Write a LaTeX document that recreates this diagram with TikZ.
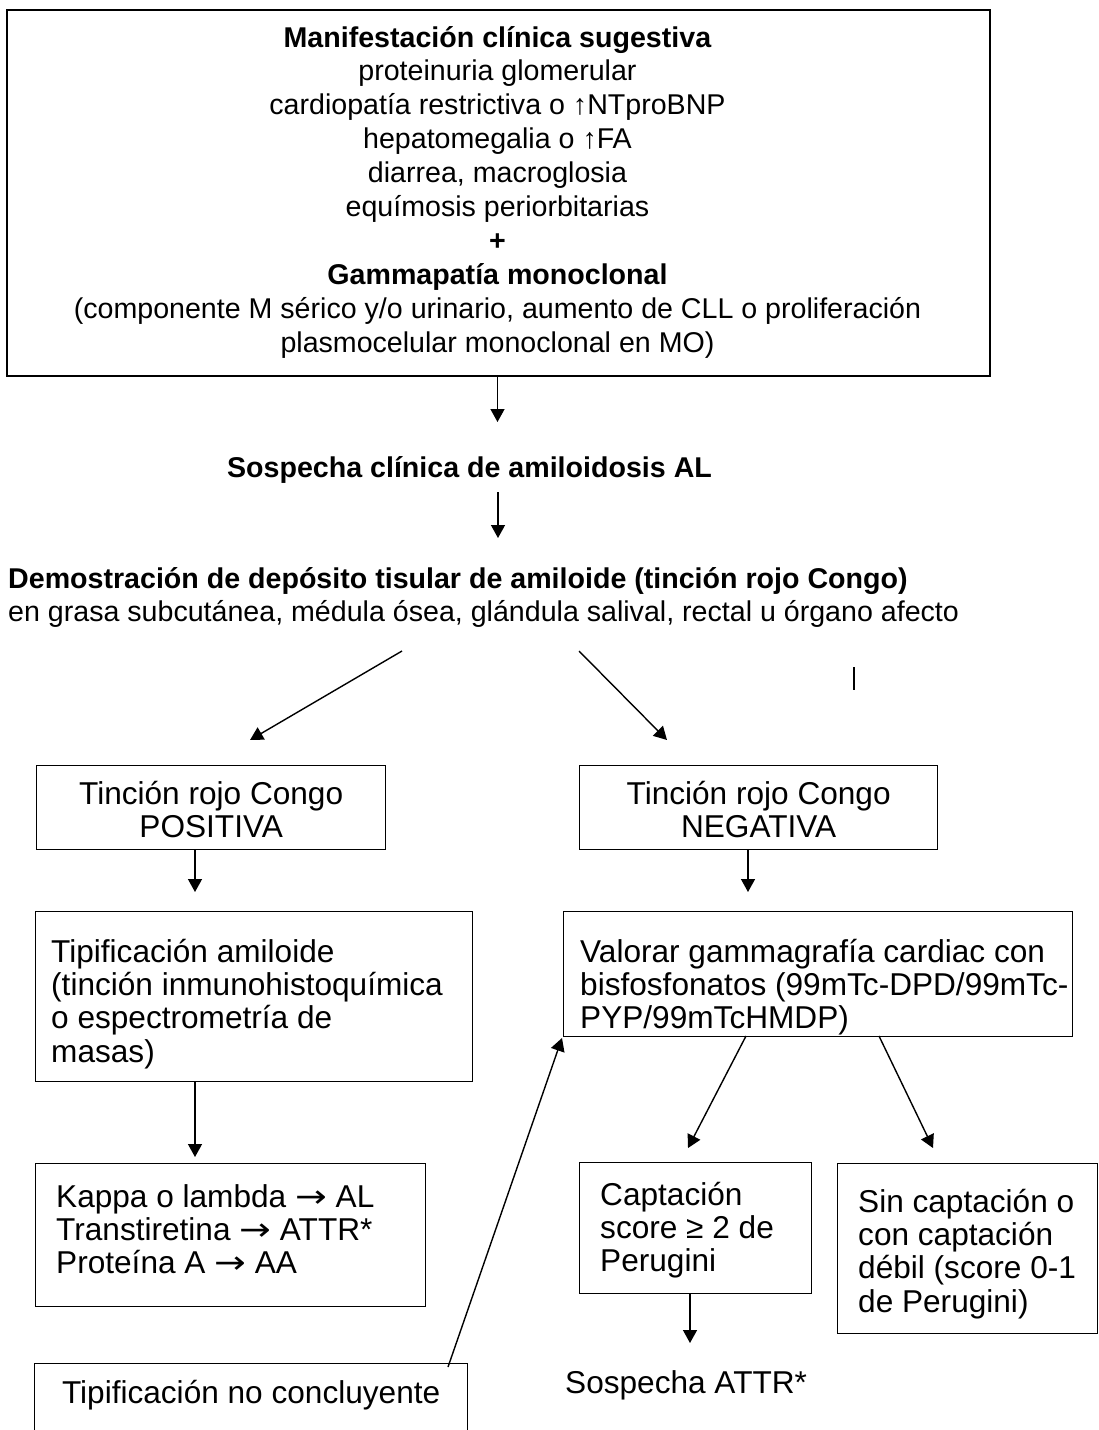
\documentclass[tikz,border=0pt]{standalone}
\usepackage{fontspec}
\setmainfont{Liberation Sans}
\newfontfamily\arrowfont{DejaVu Sans}
\usetikzlibrary{arrows.meta}
\newcommand\ra{{\arrowfont\scalebox{1.2}[1]{→}}}
\begin{document}
\begin{tikzpicture}[x=1pt,y=-1pt,
  box/.style={draw, line width=1.3pt, anchor=north west, inner sep=0pt},
  arr/.style={line width=1.4pt, -{Triangle[length=13pt,width=14pt]}},
  lbl/.style={inner sep=0pt, anchor=base west},
  clbl/.style={inner sep=0pt, anchor=base}
]
\useasboundingbox (0,0) rectangle (1099,1430);
\clip (0,0) rectangle (1099,1430);
\newcommand\boxfont{\fontsize{31.6}{33.4}\selectfont}
\newcommand\headfont{\fontsize{28.6}{33.9}\selectfont}

% ---------- top box ----------
\node[box, line width=2.2pt, minimum width=983, minimum height=366] (top) at (6,9) {};
\node[clbl] (toptext) at (497.5,47) {\parbox[t]{970pt}{\centering\headfont
  \textbf{Manifestación clínica sugestiva}\\
  proteinuria glomerular\\
  cardiopatía restrictiva o ↑NTproBNP\\
  hepatomegalia o ↑FA\\
  diarrea, macroglosia\\
  equímosis periorbitarias\\
  \textbf{+}\\
  \textbf{Gammapatía monoclonal}\\
  (componente M sérico y/o urinario, aumento de CLL o proliferación\\
  plasmocelular monoclonal en MO)}};

% ---------- headings ----------
\node[clbl, font=\headfont\bfseries] (sosp) at (469.5,477) {Sospecha clínica de amiloidosis AL};
\node[lbl] (demo) at (8,588) {\parbox[t]{1080pt}{\raggedright\headfont
  \textbf{Demostración de depósito tisular de amiloide (tinción rojo Congo)}\\
  en grasa subcutánea, médula ósea, glándula salival, rectal u órgano afecto}};

% ---------- boxes ----------
\node[box, minimum width=349, minimum height=84] (pos) at (36,765) {};
\node[clbl] (postext) at (pos.center |- 0,804) {\parbox[t]{340pt}{\centering\boxfont Tinción rojo Congo\\ POSITIVA}};

\node[box, minimum width=358, minimum height=84] (neg) at (579,765) {};
\node[clbl] (negtext) at (neg.center |- 0,804) {\parbox[t]{350pt}{\centering\boxfont Tinción rojo Congo\\ NEGATIVA}};

\node[box, minimum width=437, minimum height=170] (tipam) at (35,911) {};
\node[lbl] (tipamtext) at (51,962) {\parbox[t]{430pt}{\raggedright\boxfont Tipificación amiloide\\ (tinción inmunohistoquímica\\ o espectrometría de\\ masas)}};

\node[box, minimum width=509, minimum height=125] (val) at (563,911) {};
\node[lbl] (valtext) at (580,962) {\parbox[t]{500pt}{\raggedright\boxfont Valorar gammagrafía cardiac con\\ bisfosfonatos (99mTc-DPD/99mTc-\\ PYP/99mTcHMDP)}};

\node[box, minimum width=390, minimum height=143] (kap) at (35,1163) {};
\node[lbl] (kaptext) at (56,1207) {\parbox[t]{380pt}{\raggedright\boxfont Kappa o lambda \ra{} AL\\ Transtiretina \ra{} ATTR*\\ Proteína A \ra{} AA}};

\node[box, minimum width=232, minimum height=131] (cap) at (579,1162) {};
\node[lbl] (captext) at (600,1205) {\parbox[t]{220pt}{\raggedright\boxfont Captación\\ score ≥ 2 de\\ Perugini}};

\node[box, minimum width=260, minimum height=170] (sin) at (837,1163) {};
\node[lbl] (sintext) at (858,1212) {\parbox[t]{240pt}{\raggedright\boxfont Sin captación o\\ con captación\\ débil (score 0-1\\ de Perugini)}};

\node[box, minimum width=433, minimum height=100] (noc) at (34,1363) {};
\node[clbl, font=\boxfont] (noctext) at (noc.center |- 0,1403) {Tipificación no concluyente};

\node[lbl, font=\boxfont] (attr) at (565,1393) {Sospecha ATTR*};

% ---------- free ends ----------
\coordinate (a1e) at (497.5,422);
\coordinate (a2s) at (498,492);
\coordinate (a2e) at (498,538);
\coordinate (dls) at (402,651);
\coordinate (dle) at (250,740);
\coordinate (drs) at (579,651);
\coordinate (dre) at (667,740);
\coordinate (pb) at (195,849);
\coordinate (pe) at (195,892);
\coordinate (nb) at (748,849);
\coordinate (ne) at (748,892);
\coordinate (tb) at (195,1081);
\coordinate (te) at (195,1157);
\coordinate (vls) at (746,1036);
\coordinate (vle) at (688,1148);
\coordinate (vrs) at (879,1036);
\coordinate (vre) at (933,1148);
\coordinate (ls) at (448,1367);
\coordinate (le) at (562,1038);
\coordinate (cb) at (690,1293);
\coordinate (ce) at (690,1343);
\coordinate (stray1) at (854,667);
\coordinate (stray2) at (854,690);

% ---------- connectors ----------
\draw[arr] (top.south -| a1e) -- (a1e);
\draw[arr] (a2s) -- (a2e);
\draw[arr] (dls) -- (dle);
\draw[arr] (drs) -- (dre);
\draw[arr] (pb |- pos.south) -- (pe);
\draw[arr] (nb |- neg.south) -- (ne);
\draw[arr] (tb |- tipam.south) -- (te);
\draw[arr] (vls) -- (vle);
\draw[arr] (vrs) -- (vre);
\draw[arr] (cb |- cap.south) -- (ce);
\draw[arr] (ls) -- (le);
\draw[line width=1.4pt] (stray1) -- (stray2);
\end{tikzpicture}
\end{document}
